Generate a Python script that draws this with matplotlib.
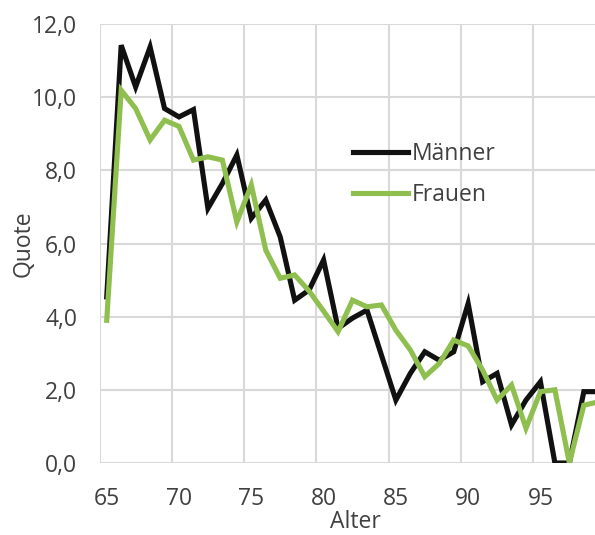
import matplotlib
matplotlib.use("Agg")
import matplotlib.pyplot as plt
from matplotlib.lines import Line2D

ages = list(range(65, 100))
maenner = [4.54, 11.42, 10.28, 11.37, 9.69, 9.46, 9.66, 6.96, 7.64, 8.42,
           6.69, 7.19, 6.18, 4.45, 4.73, 5.55, 3.68, 3.96, 4.18, 2.95,
           1.72, 2.45, 3.04, 2.81, 3.04, 4.36, 2.22, 2.45, 1.04, 1.72,
           2.22, 0.0, 0.0, 1.95, 1.95]
frauen = [3.9, 10.19, 9.69, 8.83, 9.37, 9.2, 8.28, 8.37, 8.28, 6.59,
          7.6, 5.82, 5.05, 5.14, 4.7, 4.15, 3.59, 4.45, 4.27, 4.32,
          3.63, 3.09, 2.36, 2.72, 3.36, 3.2, 2.54, 1.72, 2.13, 0.95,
          1.95, 2.0, 0.0, 1.58, 1.67]
x_ticks = [65, 70, 75, 80, 85, 90, 95]
y_ticks = [0, 2, 4, 6, 8, 10, 12]
series_names = ["Männer", "Frauen"]

plt.rcParams['font.family'] = ['Open Sans', 'DejaVu Sans']
txt = '#404040'
grid = '#d9d9d9'
black = '#111111'
green = '#8fbf4f'

fig = plt.figure(figsize=(5.95, 5.35), dpi=100)
ax = fig.add_axes([99.5/595, 72/535, (605.5-99.5)/595, 439/535])

ax.plot(ages, maenner, color=black, lw=3.7, solid_joinstyle='miter', zorder=3)
ax.plot(ages, frauen, color=green, lw=3.7, solid_joinstyle='miter', zorder=4)

ax.set_xlim(64.5, 99.5)
ax.set_ylim(0, 12)
ax.set_yticks(y_ticks)
ax.set_yticklabels([f"{v:.1f}".replace('.', ',') for v in y_ticks])
ax.set_xticks([t - 0.5 for t in range(65, 101, 5)], minor=False)
ax.set_xticklabels([])
ax.set_xticks(x_ticks, minor=True)
ax.set_xticklabels([str(t) for t in x_ticks], minor=True)
ax.tick_params(axis='both', which='both', length=0, labelsize=16.5, colors=txt)
ax.tick_params(axis='y', pad=16)
ax.tick_params(axis='x', which='minor', pad=17)
ax.grid(True, which='major', color=grid, lw=1.5)
ax.set_axisbelow(True)
for s in ax.spines.values():
    s.set_visible(False)

ax.set_ylabel("Quote", fontsize=16.5, color=txt, va='center')
ax.yaxis.set_label_coords((24 - 99.5) / 506, 0.5)
ax.set_xlabel("Alter", fontsize=16.5, color=txt, va='center')
ax.xaxis.set_label_coords((355 - 99.5) / 506, (463 - 522) / 439)

handles = [Line2D([], [], color=black, lw=3.7), Line2D([], [], color=green, lw=3.7)]
fig.legend(handles, series_names, loc='upper left',
           bbox_to_anchor=(353/595, 1 - 142/535), bbox_transform=fig.transFigure,
           frameon=False, fontsize=16.5, handlelength=2.4, handletextpad=0.15,
           labelspacing=0.75, borderpad=0, borderaxespad=0, labelcolor=txt)

fig.savefig("out.png", dpi=100)
